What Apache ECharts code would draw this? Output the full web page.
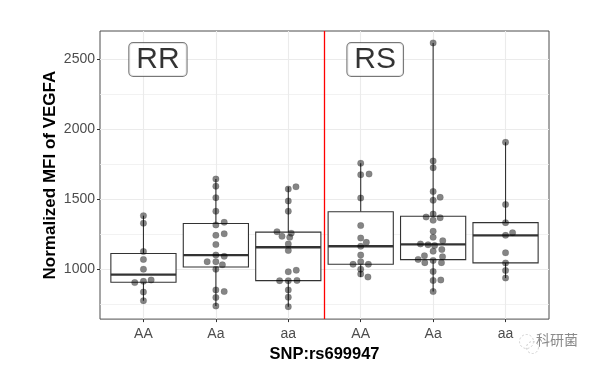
<!DOCTYPE html>
<html>
<head>
<meta charset="utf-8">
<script src="https://cdn.jsdelivr.net/npm/echarts@6/dist/echarts.min.js"></script>
<style>
html,body{margin:0;padding:0;background:#fff;}
#c{width:597px;height:368px;}
</style>
</head>
<body>
<div id="c"></div>
<script>
// ---- data ----
const categories = ['AA', 'Aa', 'aa', 'AA', 'Aa', 'aa'];
const groupLabels = ['RR', 'RS'];
const groupLabelX = [1.2, 4.2];
const groupLabelY = [2500, 2500];
const dividerX = [3.5];
const yTicks = [1000, 1500, 2000, 2500];
const yMinorTicks = [750, 1250, 1750, 2250];

// values of each group (normalized MFI) and horizontal jitter offsets
const g1Values = [1383, 1329, 1127, 1070, 1000, 913, 904, 923, 836, 775];
const g1Jitter = [0, 0, 0, 0, 0, 0, -0.12, 0.106, 0, 0];
const g2Values = [1645, 1594, 1512, 1415, 1336, 1317, 1253, 1242, 1176, 1101, 1092, 1054, 1054, 1031, 1000, 852, 840, 798, 737];
const g2Jitter = [0, 0, 0, 0, 0.115, 0, 0.115, 0, 0, 0, 0.115, -0.12, 0, 0.09, 0, 0, 0.115, 0, 0];
const g3Values = [1589, 1573, 1488, 1415, 1268, 1258, 1235, 1228, 1181, 1134, 993, 981, 918, 918, 920, 852, 800, 732];
const g3Jitter = [0.106, 0, 0, 0, -0.156, 0.04, -0.087, 0.02, 0, 0, 0.11, 0, -0.12, 0, 0.12, 0, 0, 0];
const g4Values = [1758, 1681, 1676, 1509, 1312, 1223, 1192, 1164, 1101, 1054, 1035, 1035, 1000, 965, 944];
const g4Jitter = [0, 0.115, 0, 0, 0, 0, 0.078, 0, 0, 0, -0.106, 0.106, 0, 0, 0.1];
const g5Values = [2619, 1774, 1725, 1556, 1514, 1493, 1394, 1373, 1368, 1350, 1272, 1228, 1204, 1181, 1174, 1169, 1141, 1129, 1096, 1089, 1070, 1063, 1047, 1047, 984, 923, 920, 840];
const g5Jitter = [0, 0, 0, 0, 0.097, 0, 0, -0.097, 0.097, 0, 0, 0, 0.133, -0.175, -0.07, 0.02, 0.12, 0, -0.12, 0.13, -0.207, 0, -0.115, 0.115, 0, 0.106, 0, 0];
const g6Values = [1908, 1462, 1333, 1261, 1242, 1117, 1045, 991, 937];
const g6Jitter = [0, 0, 0, 0.097, 0, 0, 0, 0, 0];

const groupValues = [g1Values, g2Values, g3Values, g4Values, g5Values, g6Values];
const groupJitter = [g1Jitter, g2Jitter, g3Jitter, g4Jitter, g5Jitter, g6Jitter];

// ---- derived box statistics (quantile type 7, whiskers to min/max) ----
function quantile(sorted, p) {
  const h = (sorted.length - 1) * p;
  const lo = Math.floor(h), hi = Math.ceil(h);
  return sorted[lo] + (h - lo) * (sorted[hi] - sorted[lo]);
}
const boxData = groupValues.map((vals, i) => {
  const s = vals.slice().sort((a, b) => a - b);
  return [i + 1, s[0], quantile(s, 0.25), quantile(s, 0.5), quantile(s, 0.75), s[s.length - 1]];
});
const pointData = [];
groupValues.forEach((vals, i) => {
  vals.forEach((v, j) => pointData.push([i + 1 + groupJitter[i][j], v]));
});
const labelData = groupLabels.map((t, i) => ({ value: [groupLabelX[i], groupLabelY[i]], name: t }));

const gridLine = { color: '#ebebeb', width: 1.1, type: 'solid' };
const minorLine = { color: '#efefef', width: 0.8, type: 'solid' };

const chart = echarts.init(document.getElementById('c'), null, { renderer: 'canvas' });
chart.setOption({
  animation: false,
  backgroundColor: '#fff',
  grid: { left: 100, right: 48, top: 31, bottom: 44, show: true, borderColor: '#4d4d4d', borderWidth: 1, backgroundColor: 'transparent' },
  xAxis: {
    type: 'value', min: 0.4, max: 6.6,
    name: 'SNP:rs699947', nameLocation: 'middle', nameGap: 25,
    nameTextStyle: { fontFamily: 'Liberation Sans', fontWeight: 'bold', fontSize: 16.5, color: '#000' },
    axisLine: { show: false },
    axisTick: { show: true, length: 3, lineStyle: { color: '#333', width: 1 }, customValues: [1, 2, 3, 4, 5, 6] },
    axisLabel: { customValues: [1, 2, 3, 4, 5, 6], formatter: v => categories[Math.round(v) - 1] || '', color: '#4d4d4d', fontFamily: 'Liberation Sans', fontSize: 14, margin: 8 },
    splitLine: { show: false }
  },
  yAxis: {
    type: 'value', min: 643, max: 2704,
    name: 'Normalized MFI of VEGFA', nameLocation: 'middle', nameGap: 41, nameMoveOverlap: false,
    nameTextStyle: { fontFamily: 'Liberation Sans', fontWeight: 'bold', fontSize: 17, color: '#000' },
    axisLine: { show: false },
    axisTick: { show: true, length: 3, lineStyle: { color: '#333', width: 1 }, customValues: yTicks },
    axisLabel: { customValues: yTicks, formatter: v => String(v), color: '#4d4d4d', fontFamily: 'Liberation Sans', fontSize: 14, margin: 5 },
    splitLine: { show: false }
  },
  series: [
    {
      type: 'scatter', data: [], z: 0, silent: true,
      markLine: {
        z: 0, silent: true, symbol: ['none', 'none'], label: { show: false }, animation: false,
        data: [
          ...yMinorTicks.map(v => ({ yAxis: v, lineStyle: minorLine })),
          ...yTicks.map(v => ({ yAxis: v, lineStyle: gridLine })),
          ...categories.map((c, i) => ({ xAxis: i + 1, lineStyle: gridLine }))
        ]
      }
    },
    {
      type: 'custom', z: 2, silent: true,
      data: boxData,
      encode: { x: 0, y: [1, 2, 3, 4, 5] },
      renderItem: function (params, api) {
        const x = api.value(0);
        const pMin = api.coord([x, api.value(1)]);
        const pQ1 = api.coord([x, api.value(2)]);
        const pMed = api.coord([x, api.value(3)]);
        const pQ3 = api.coord([x, api.value(4)]);
        const pMax = api.coord([x, api.value(5)]);
        const half = api.size([0.45, 0])[0];
        const stroke = '#333';
        return {
          type: 'group',
          children: [
            { type: 'line', shape: { x1: pMax[0], y1: pMax[1], x2: pQ3[0], y2: pQ3[1] }, style: { stroke: stroke, lineWidth: 1.1 } },
            { type: 'line', shape: { x1: pQ1[0], y1: pQ1[1], x2: pMin[0], y2: pMin[1] }, style: { stroke: stroke, lineWidth: 1.1 } },
            { type: 'rect', shape: { x: pQ3[0] - half, y: pQ3[1], width: half * 2, height: pQ1[1] - pQ3[1] }, style: { fill: '#fff', stroke: stroke, lineWidth: 1.1 } },
            { type: 'line', shape: { x1: pMed[0] - half, y1: pMed[1], x2: pMed[0] + half, y2: pMed[1] }, style: { stroke: stroke, lineWidth: 2.4 } }
          ]
        };
      }
    },
    {
      type: 'scatter', z: 3, silent: true,
      data: pointData,
      symbol: 'circle', symbolSize: 6.5,
      itemStyle: { color: 'rgba(0,0,0,0.6)', borderColor: 'rgba(0,0,0,0.25)', borderWidth: 0.5 }
    },
    {
      type: 'scatter', z: 4, data: [], silent: true,
      markLine: {
        z: 4, silent: true, symbol: ['none', 'none'], label: { show: false }, animation: false,
        data: dividerX.map(v => ({ xAxis: v })),
        lineStyle: { color: '#ff0000', width: 1.3, type: 'solid' }
      }
    },
    {
      type: 'scatter', z: 5, silent: true,
      data: labelData, symbolSize: 0,
      label: {
        show: true, position: 'inside', formatter: p => p.name,
        fontFamily: 'Liberation Sans', fontSize: 30, color: '#000', lineHeight: 30,
        backgroundColor: '#fff', borderColor: '#555', borderWidth: 1, borderRadius: 4,
        padding: [2, 7, 1, 7]
      }
    }
  ],
  graphic: [
    { type: 'circle', left: 517, top: 332, shape: { r: 7 }, style: { fill: 'none', stroke: '#cfcfcf', lineWidth: 1, lineDash: [2, 2] } },
    { type: 'circle', left: 524, top: 339, shape: { r: 6 }, style: { fill: 'none', stroke: '#cfcfcf', lineWidth: 1, lineDash: [2, 2] } },
    { type: 'text', left: 536, top: 333, style: { text: '科研菌', fill: '#8a8a8a', font: '14px "Noto Sans CJK SC"' } }
  ]
});
</script>
</body>
</html>
